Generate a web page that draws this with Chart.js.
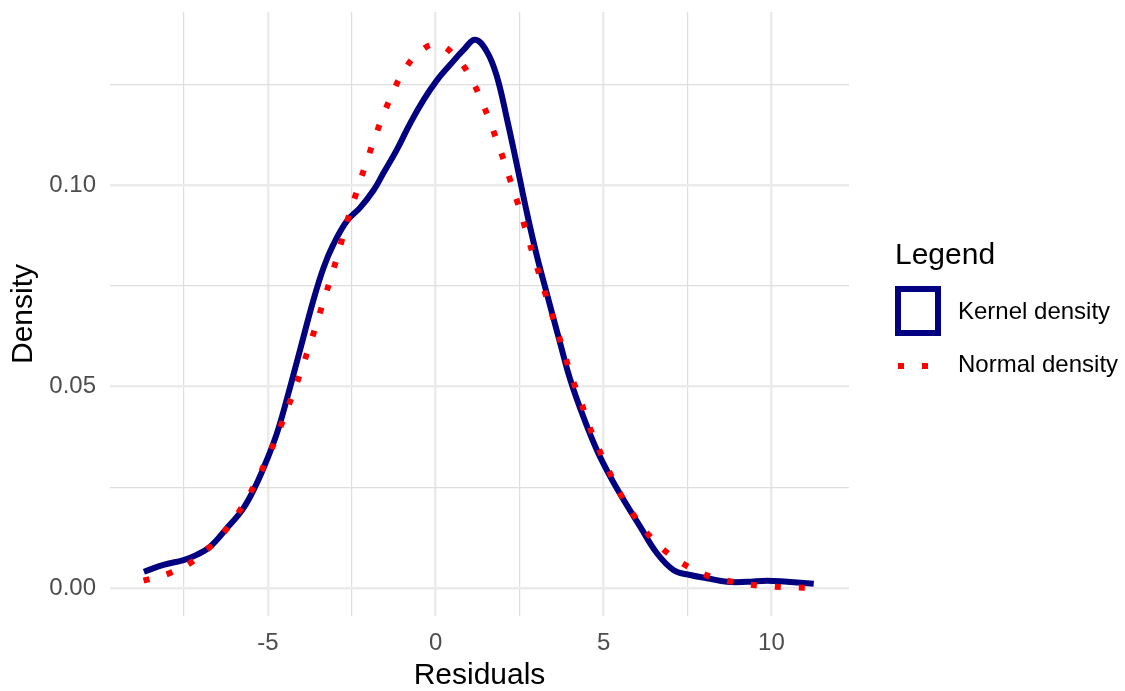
<!DOCTYPE html>
<html>
<head>
<meta charset="utf-8">
<script src="https://cdn.jsdelivr.net/npm/chart.js@4"></script>
<style>
  body { margin: 0; background: #fff; }
</style>
</head>
<body>
<canvas id="myChart" width="1125" height="691"></canvas>
<script>
// kernel density curve
const kernelX = [-8.69, -8.11, -7.51, -7.12, -6.72, -6.22, -5.73, -5.33, -5.03, -4.73, -4.43, -4.04, -3.64, -3.34, -3.05, -2.65, -2.25, -1.85, -1.56, -1.16, -0.76, -0.36, 0.04, 0.43, 0.83, 1.18, 1.53, 1.82, 2.12, 2.42, 2.72, 3.02, 3.31, 3.71, 4.01, 4.40, 4.80, 5.20, 5.60, 6.09, 6.59, 7.09, 7.58, 8.08, 8.68, 9.27, 9.87, 10.47, 11.26];
const kernelY = [0.0041, 0.0058, 0.0070, 0.0083, 0.0103, 0.0149, 0.0198, 0.0260, 0.0318, 0.0384, 0.0470, 0.0591, 0.0715, 0.0795, 0.0852, 0.0910, 0.0944, 0.0987, 0.1029, 0.1087, 0.1153, 0.1211, 0.1260, 0.1298, 0.1335, 0.1360, 0.1330, 0.1270, 0.1165, 0.1049, 0.0930, 0.0822, 0.0731, 0.0607, 0.0517, 0.0425, 0.0343, 0.0277, 0.0219, 0.0153, 0.0087, 0.0045, 0.0033, 0.0025, 0.0016, 0.0016, 0.0019, 0.0016, 0.0011];

// normal density curve (dotted)
const normalX = [-8.7, -7.94, -7.29, -6.72, -6.22, -5.78, -5.41, -5.08, -4.77, -4.49, -4.22, -3.97, -3.72, -3.49, -3.26, -3.03, -2.82, -2.61, -2.37, -2.13, -1.88, -1.62, -1.33, -0.99, -0.52, 0.05, 0.70, 1.11, 1.42, 1.70, 1.96, 2.20, 2.44, 2.66, 2.88, 3.11, 3.34, 3.58, 3.81, 4.04, 4.31, 4.55, 4.85, 5.17, 5.52, 5.92, 6.37, 6.91, 7.51, 8.18, 8.86, 9.57, 10.29, 11.26];
const normalY = [0.0019, 0.0037, 0.0064, 0.0103, 0.0148, 0.0200, 0.0254, 0.0311, 0.0369, 0.0430, 0.0489, 0.0549, 0.0611, 0.0672, 0.0733, 0.0795, 0.0856, 0.0917, 0.0979, 0.1040, 0.1101, 0.1161, 0.1219, 0.1277, 0.1327, 0.1349, 0.1308, 0.1255, 0.1198, 0.1138, 0.1078, 0.1017, 0.0956, 0.0895, 0.0833, 0.0772, 0.0711, 0.0649, 0.0588, 0.0526, 0.0467, 0.0407, 0.0347, 0.0289, 0.0231, 0.0179, 0.0130, 0.0087, 0.0054, 0.0029, 0.0016, 0.0007, 0.0003, 0.0001];

// axis ticks (major ones get labels, the rest are minor grid lines)
const xTicks = [-7.5, -5, -2.5, 0, 2.5, 5, 7.5, 10];
const xMajor = [-5, 0, 5, 10];
const yTicks = [0, 0.025, 0.05, 0.075, 0.1, 0.125];
const yMajor = [0, 0.05, 0.1];
const yLabels = ["0.00", "0.05", "0.10"];

const FONT = "'Liberation Sans', Arial, sans-serif";

const toPoints = (xs, ys) => xs.map((x, i) => ({ x: x, y: ys[i] }));
const isMajorY = (v) => yMajor.some((m) => Math.abs(m - v) < 1e-9);

// ggplot style legend on the right
const legendBox = {
  id: "legendBox",
  afterDraw(chart) {
    const ctx = chart.ctx;
    const ds = chart.data.datasets;
    ctx.save();
    ctx.fillStyle = "#000";
    ctx.textBaseline = "middle";
    ctx.textAlign = "left";
    ctx.font = "30px " + FONT;
    ctx.fillText("Legend", 895, 256);

    // kernel key: outlined square
    ctx.strokeStyle = ds[0].borderColor;
    ctx.lineWidth = 6;
    ctx.strokeRect(898, 289, 40, 44);

    // normal key: dotted line
    ctx.strokeStyle = ds[1].borderColor;
    ctx.lineWidth = 6;
    ctx.setLineDash([6, 18]);
    ctx.beginPath();
    ctx.moveTo(898, 366);
    ctx.lineTo(941, 366);
    ctx.stroke();
    ctx.setLineDash([]);

    ctx.font = "24px " + FONT;
    ctx.fillText(ds[0].label, 958, 312);
    ctx.fillText(ds[1].label, 958, 365);
    ctx.restore();
  },
};

const ctx = document.getElementById("myChart");

new Chart(ctx, {
  type: "line",
  data: {
    datasets: [
      {
        label: "Kernel density",
        data: toPoints(kernelX, kernelY),
        borderColor: "#000080",
        borderWidth: 6,
        pointRadius: 0,
        tension: 0.4,
        fill: false,
        order: 2,
      },
      {
        label: "Normal density",
        data: toPoints(normalX, normalY),
        borderColor: "#FF0000",
        borderWidth: 6,
        borderDash: [6, 18],
        borderCapStyle: "butt",
        pointRadius: 0,
        tension: 0.4,
        fill: false,
        order: 1,
      },
    ],
  },
  options: {
    responsive: false,
    animation: false,
    layout: { padding: { top: 12, right: 276, bottom: 0, left: 0 } },
    plugins: {
      legend: { display: false },
      tooltip: { enabled: false },
    },
    scales: {
      x: {
        type: "linear",
        min: -9.7,
        max: 12.31,
        afterBuildTicks: (scale) => {
          scale.ticks = xTicks.map((v) => ({ value: v }));
        },
        afterFit: (scale) => {
          scale.height = 75;
          scale.paddingLeft = 0;
          scale.paddingRight = 0;
        },
        ticks: {
          autoSkip: false,
          maxRotation: 0,
          padding: 13,
          color: "#4D4D4D",
          font: { family: FONT, size: 24 },
          callback: (v) => (xMajor.includes(v) ? String(v) : ""),
        },
        grid: {
          drawTicks: false,
          color: (c) => (c.tick && xMajor.includes(c.tick.value) ? "#EBEBEB" : "#DEDEDE"),
          lineWidth: (c) => (c.tick && xMajor.includes(c.tick.value) ? 2.5 : 1.2),
        },
        border: { display: false },
        title: {
          display: true,
          text: "Residuals",
          color: "#000",
          font: { family: FONT, size: 30, lineHeight: 1 },
          padding: { top: 0, bottom: 0 },
        },
      },
      y: {
        type: "linear",
        min: -0.00687,
        max: 0.1429,
        afterBuildTicks: (scale) => {
          scale.ticks = yTicks.map((v) => ({ value: v }));
        },
        afterFit: (scale) => {
          scale.width = 110;
          scale.paddingTop = 0;
          scale.paddingBottom = 0;
        },
        ticks: {
          autoSkip: false,
          padding: 14,
          color: "#4D4D4D",
          font: { family: FONT, size: 24 },
          callback: (v) => {
            const i = yMajor.findIndex((m) => Math.abs(m - v) < 1e-9);
            return i >= 0 ? yLabels[i] : "";
          },
        },
        grid: {
          drawTicks: false,
          color: (c) => (c.tick && isMajorY(c.tick.value) ? "#EBEBEB" : "#DEDEDE"),
          lineWidth: (c) => (c.tick && isMajorY(c.tick.value) ? 2.5 : 1.2),
        },
        border: { display: false },
        title: {
          display: true,
          text: "Density",
          color: "#000",
          font: { family: FONT, size: 30, lineHeight: 1 },
          padding: { top: 9, bottom: 0 },
        },
      },
    },
  },
  plugins: [legendBox],
});
</script>
</body>
</html>
